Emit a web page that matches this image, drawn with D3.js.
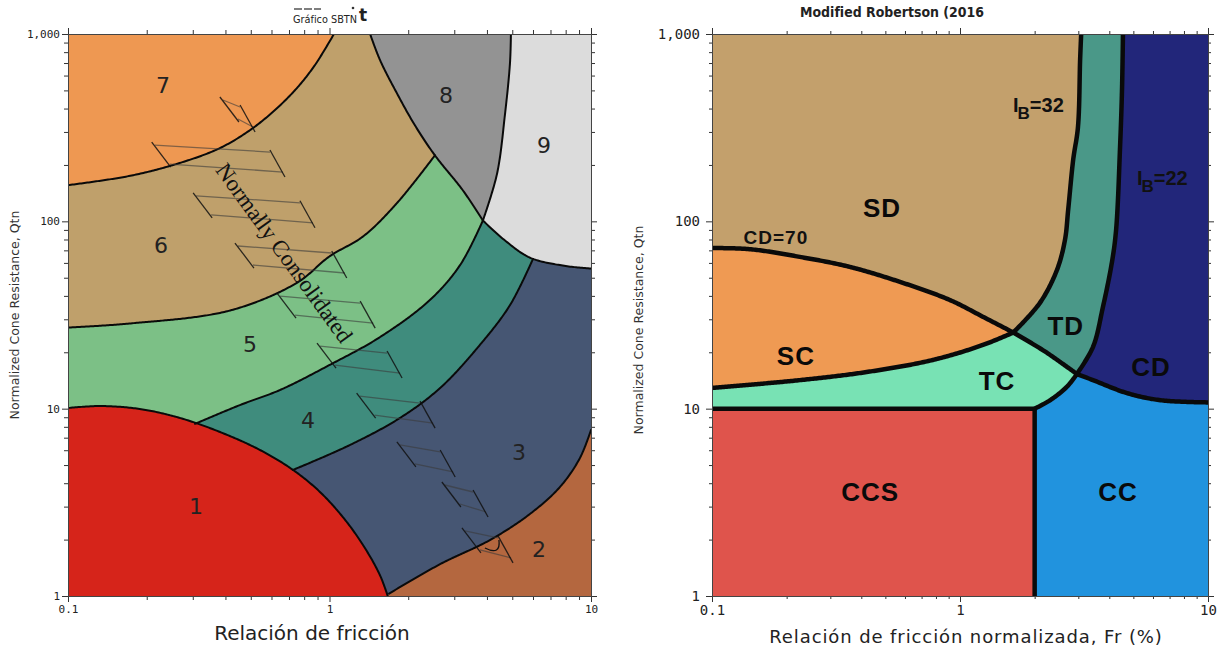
<!DOCTYPE html>
<html lang="es">
<head>
<meta charset="utf-8">
<title>SBTn charts</title>
<script src="https://cdn.jsdelivr.net/npm/d3@7/dist/d3.min.js"></script>
<style>
  html, body { margin: 0; padding: 0; background: #fff; }
  svg { display: block; }
</style>
</head>
<body>
<svg id="chart" width="1220" height="649"></svg>
<script>
// ---------- shared log-axis ticks ----------
const frMajor = [0.1, 1, 10];
const frMinor = [0.2, 0.3, 0.4, 0.5, 0.6, 0.7, 0.8, 0.9, 2, 3, 4, 5, 6, 7, 8, 9];
const qtMajor = [1, 10, 100, 1000];
const qtMinor = [2, 3, 4, 5, 6, 7, 8, 9, 20, 30, 40, 50, 60, 70, 80, 90, 200, 300, 400, 500, 600, 700, 800, 900];

// ---------- SBTn chart: zone boundaries, [Fr %, Qtn] ----------
const sbtZone1Top    = [[0.1, 10.08], [0.1326, 10.33], [0.1885, 9.96], [0.268, 8.92], [0.381, 7.51], [0.542, 6.02], [0.725, 4.71],
                        [0.920, 3.59], [1.147, 2.55], [1.367, 1.80], [1.56, 1.29], [1.67, 1]];
const sbtZone2Top    = [[1.69, 1.03], [2.65, 1.48], [4.11, 1.99], [5.84, 2.74], [7.61, 3.82], [9.07, 5.45], [10, 7.69]];
const sbtZone34      = [[0.725, 4.71], [1.198, 6.40], [1.86, 8.92], [2.65, 12.9], [3.76, 21.9], [4.90, 35.7], [6.0, 63]];
const sbtZone45      = [[0.306, 8.3], [0.455, 10.46], [0.647, 12.58], [1.0, 17.1], [1.56, 24.1], [2.42, 38.0], [3.16, 58.5], [3.86, 101]];
const sbtZone56      = [[0.1, 27.1], [0.173, 28.5], [0.416, 33.4], [0.751, 47], [1.0, 65], [1.343, 83], [1.81, 125], [2.53, 225]];
const sbtZone67      = [[0.1, 156], [0.173, 175], [0.268, 205], [0.381, 246], [0.497, 307], [0.619, 393], [0.751, 515], [0.880, 683], [1.04, 1000]];
const sbtZone8Left   = [[1.43, 1000], [1.56, 726], [1.81, 483], [2.12, 326], [2.53, 225], [3.24, 146], [3.86, 101]];
const sbtZone89      = [[3.86, 101], [4.37, 179], [4.69, 374], [4.90, 701], [4.94, 1000]];
const sbtZone9Bottom = [[3.86, 101], [4.69, 79], [5.84, 64], [7.82, 58], [10, 56]];

const sbtZoneNames = ["1", "2", "3", "4", "5", "6", "7", "8", "9"];
const sbtZonePos   = [[0.309, 3.02], [6.33, 1.78], [5.31, 5.8], [0.827, 8.6], [0.497, 21.9], [0.227, 73.9], [0.231, 534], [2.79, 472], [6.61, 253]];

// "Normally Consolidated" band: hatch marks [Fr left, Fr right, Qtn top]
const sbtNcMarks = [[0.381, 0.455, 461], [0.209, 0.592, 265], [0.301, 0.771, 142], [0.435, 1.02, 76.6], [0.630, 1.31, 41.4],
                    [0.896, 1.66, 22.4], [1.27, 2.22, 12.1], [1.81, 2.65, 6.64], [2.69, 3.54, 4.06], [3.21, 4.41, 2.31]];
const sbtNcLabel = "Normally Consolidated";
const sbtNcLabelPos = [0.670, 67.8];
const sbtNcHook = [3.93, 1.99];

// ---------- Modified Robertson (2016): boundaries, [Fr %, Qtn] ----------
const mrCd70     = [[0.1, 72], [0.142, 71], [0.226, 64.6], [0.36, 57.1], [0.573, 47.5], [0.911, 38.0], [1.24, 30.9], [1.64, 25.5]];
const mrCd70Tail = [[1.64, 25.5], [2.2, 20.2], [2.96, 15.3]];
const mrScBase   = [[0.1, 12.9], [0.226, 14.2], [0.422, 15.7], [0.778, 18.2], [1.24, 21.9], [1.64, 25.5]];
const mrIb32     = [[1.64, 25.5], [2.10, 36.7], [2.46, 55.0], [2.65, 79.6], [2.73, 115], [2.86, 213], [2.99, 319], [3.05, 727], [3.08, 1000]];
const mrIb22     = [[2.96, 15.3], [3.44, 21.4], [3.77, 34.9], [4.10, 60.7], [4.26, 90], [4.42, 250], [4.50, 503], [4.54, 1000]];
const mrCdBase   = [[2.96, 15.3], [3.44, 14.2], [4.72, 12.1], [6.41, 11.1], [10, 10.8]];
const mrTcBase   = [[2.0, 10], [2.31, 11.1], [2.70, 13.1], [2.96, 15.3]];
const mrCcsEdge  = [[0.1, 10], [2.0, 10], [2.0, 1]];

const mrZoneNames = ["SD", "SC", "TC", "TD", "CD", "CCS", "CC"];
const mrZonePos   = [[0.485, 118], [0.218, 19.1], [1.41, 14.0], [2.67, 27.6], [5.89, 16.7], [0.434, 3.59], [4.34, 3.59]];
const mrCdLabel = "CD=70", mrCdLabelPos = [0.181, 81.5];
const mrIbLabels = [["32", [1.636, 384]], ["22", [5.17, 156]]];

// ---------- colours ----------
const sbtColors = { z1: "#d6241a", z2: "#b4673f", z3: "#465673", z4: "#3f8c7d", z5: "#7cc086",
                    z6: "#bfa06b", z7: "#ee9852", z8: "#939393", z9: "#dcdcdc" };
const mrColors  = { SD: "#c3a06c", SC: "#ef9a53", TC: "#78e2b4", TD: "#4a9888",
                    CD: "#22267a", CC: "#2193de", CCS: "#df544c" };

const svg = d3.select("#chart");
const smooth = d3.curveCatmullRom.alpha(0.5);

// Sample a smoothed boundary into screen points so fills and strokes share one outline.
function trace(g, pts, sc) {
  const d = d3.line().x(p => sc.x(p[0])).y(p => sc.y(p[1])).curve(smooth)(pts);
  const node = g.append("path").attr("d", d).node();
  const len = node.getTotalLength();
  const n = Math.max(1, Math.ceil(len / 1.5));
  const out = d3.range(n + 1).map(i => { const p = node.getPointAtLength(len * i / n); return [p.x, p.y]; });
  node.remove();
  return out;
}
const at = (sc, p) => [sc.x(p[0]), sc.y(p[1])];
const rev = a => a.slice().reverse();
function fillPoly(g, pts, color) {
  g.append("path").attr("d", "M" + pts.map(p => p.join(",")).join("L") + "Z").attr("fill", color);
}
function strokeLine(g, pts, w) {
  g.append("path").attr("d", "M" + pts.map(p => p.join(",")).join("L"))
    .attr("fill", "none").attr("stroke", "#0a0a0a").attr("stroke-width", w)
    .attr("stroke-linejoin", "round").attr("stroke-linecap", "round");
}

function drawAxes(g, sc, o) {
  const [x0, x1] = sc.x.range();
  const [yb, yt] = sc.y.range();
  const put = (axis, tf, vals, size, fmt, pad) => {
    const a = g.append("g").attr("transform", tf)
      .call(axis.tickValues(vals).tickSize(size).tickSizeOuter(0).tickPadding(pad || 3).tickFormat(fmt || (() => "")));
    a.select(".domain").remove();
    a.selectAll("line").attr("stroke", o.tick);
    a.attr("font-family", o.font).attr("font-size", o.fontSize);
    a.selectAll("text").attr("fill", "#222");
    return a;
  };
  put(d3.axisLeft(sc.y), `translate(${x0},0)`, qtMajor, o.major, d3.format(","), o.padY);
  put(d3.axisLeft(sc.y), `translate(${x0},0)`, qtMinor, o.minor);
  put(d3.axisRight(sc.y), `translate(${x1},0)`, qtMajor, o.major);
  put(d3.axisRight(sc.y), `translate(${x1},0)`, qtMinor, o.minor);
  put(d3.axisBottom(sc.x), `translate(0,${yb})`, frMajor, o.major, d => String(d), o.padX);
  put(d3.axisBottom(sc.x), `translate(0,${yb})`, frMinor, o.minor);
  put(d3.axisTop(sc.x), `translate(0,${yt})`, frMajor, o.major);
  put(d3.axisTop(sc.x), `translate(0,${yt})`, frMinor, o.minor);
  g.append("rect").attr("x", x0 + 0.5).attr("y", yt + 0.5).attr("width", x1 - x0).attr("height", yb - yt)
    .attr("fill", "none").attr("stroke", o.frame).attr("stroke-width", 1);
}

// ================= SBTn chart =================
const sL = {
  x: d3.scaleLog().domain([0.1, 10]).range([68, 591]),
  y: d3.scaleLog().domain([1, 1000]).range([596, 34])
};
svg.append("clipPath").attr("id", "clipL").append("rect")
  .attr("x", 68).attr("y", 34).attr("width", 523).attr("height", 562);
const gL = svg.append("g").attr("clip-path", "url(#clipL)");
{
  const c1 = trace(gL, sbtZone1Top, sL), c2 = trace(gL, sbtZone2Top, sL), c34 = trace(gL, sbtZone34, sL);
  const c45 = trace(gL, sbtZone45, sL), c56 = trace(gL, sbtZone56, sL), c67 = trace(gL, sbtZone67, sL);
  const c8 = trace(gL, sbtZone8Left, sL), c89 = trace(gL, sbtZone89, sL), c9 = trace(gL, sbtZone9Bottom, sL);
  const P = p => at(sL, p);
  const first = a => a[0], last = a => a[a.length - 1];

  fillPoly(gL, [P([0.1, 1]), P([10, 1]), P([10, 1000]), P([0.1, 1000])], sbtColors.z3);
  fillPoly(gL, [P([0.1, 1]), P([first(sbtZone34)[0], 1]), ...c34, P([last(sbtZone34)[0], 1000]), P([0.1, 1000])], sbtColors.z4);
  fillPoly(gL, [P([0.1, 1]), P([first(sbtZone45)[0], 1]), ...c45, P([last(sbtZone45)[0], 1000]), P([0.1, 1000])], sbtColors.z5);
  fillPoly(gL, [...c56, P([last(sbtZone56)[0], 1000]), P([0.1, 1000])], sbtColors.z6);
  fillPoly(gL, [...c67, P([0.1, 1000])], sbtColors.z7);
  fillPoly(gL, [...c8, ...c89], sbtColors.z8);
  fillPoly(gL, [...c89, P([10, 1000]), ...rev(c9)], sbtColors.z9);
  fillPoly(gL, [...c1, P([0.1, 1])], sbtColors.z1);
  fillPoly(gL, [...c2, P([10, 1]), P([last(sbtZone1Top)[0], 1])], sbtColors.z2);

  [c1, c2, c34, c45, c56, c67, c8, c89, c9].forEach(c => strokeLine(gL, c, 2));

  // hatch marks of the normally consolidated band
  const hatch = gL.append("g");
  sbtNcMarks.forEach(([fl, fr, q]) => {
    const l = sL.x(fl), r = sL.x(fr), t = sL.y(q);
    [[l + 3, t + 3, r, t + 10], [l + 18, t + 22, r + 13, t + 30]].forEach(s =>
      hatch.append("line").attr("x1", s[0]).attr("y1", s[1]).attr("x2", s[2]).attr("y2", s[3])
        .attr("stroke", "#3a3a3a").attr("stroke-opacity", 0.6).attr("stroke-width", 1.3));
    [[l, t, l + 19, t + 25], [r, t + 8, r + 15, t + 35]].forEach(s =>
      hatch.append("line").attr("x1", s[0]).attr("y1", s[1]).attr("x2", s[2]).attr("y2", s[3])
        .attr("stroke", "#111").attr("stroke-opacity", 0.85).attr("stroke-width", 1.3));
  });
  const hk = P(sbtNcHook);
  hatch.append("path")
    .attr("d", `M${hk[0]},${hk[1] + 8} Q${hk[0] + 16},${hk[1] + 16} ${hk[0] + 14},${hk[1]}`)
    .attr("fill", "none").attr("stroke", "#111").attr("stroke-width", 1.3);

  const nc = P(sbtNcLabelPos);
  gL.append("text").attr("transform", `translate(${nc[0]},${nc[1]}) rotate(54)`)
    .attr("text-anchor", "middle").attr("dominant-baseline", "central")
    .attr("font-family", "Liberation Serif, DejaVu Serif, serif").attr("font-size", 23)
    .attr("fill", "#111").text(sbtNcLabel);

  gL.selectAll(".zlab").data(sbtZoneNames).join("text").attr("class", "zlab")
    .attr("x", (d, i) => sL.x(sbtZonePos[i][0])).attr("y", (d, i) => sL.y(sbtZonePos[i][1]))
    .attr("text-anchor", "middle").attr("dominant-baseline", "central")
    .attr("font-family", "DejaVu Sans, sans-serif").attr("font-size", 22).attr("fill", "#222")
    .text(d => d);
}
drawAxes(svg.append("g"), sL, { major: 6, minor: 4, tick: "#333", frame: "#444",
  font: "DejaVu Sans Mono, monospace", fontSize: 11, padX: 3, padY: 2 });

// titles of the SBTn chart
svg.append("text").attr("x", 293).attr("y", 23)
  .attr("font-family", "DejaVu Sans Condensed, DejaVu Sans, sans-serif").attr("font-size", 11)
  .attr("textLength", 64).attr("lengthAdjust", "spacingAndGlyphs").attr("fill", "#222").text("Gráfico SBTN");
svg.append("text").attr("x", 359).attr("y", 21)
  .attr("font-family", "DejaVu Sans, sans-serif").attr("font-size", 17).attr("font-weight", "bold")
  .attr("fill", "#222").text("t");
[[294, 302], [304, 312], [314, 321]].forEach(s =>
  svg.append("line").attr("x1", s[0]).attr("x2", s[1]).attr("y1", 9).attr("y2", 9)
    .attr("stroke", "#555").attr("stroke-width", 1.5));
svg.append("circle").attr("cx", 353).attr("cy", 8).attr("r", 1.3).attr("fill", "#333");
svg.append("text").attr("transform", "translate(19,315) rotate(-90)").attr("text-anchor", "middle")
  .attr("font-family", "DejaVu Sans, sans-serif").attr("font-size", 12.5).attr("fill", "#333")
  .text("Normalized Cone Resistance, Qtn");
svg.append("text").attr("x", 312).attr("y", 640).attr("text-anchor", "middle")
  .attr("font-family", "DejaVu Sans, sans-serif").attr("font-size", 20).attr("fill", "#222")
  .text("Relación de fricción");

// ================= Modified Robertson (2016) =================
const sR = {
  x: d3.scaleLog().domain([0.1, 10]).range([712, 1208]),
  y: d3.scaleLog().domain([1, 1000]).range([596, 34])
};
svg.append("clipPath").attr("id", "clipR").append("rect")
  .attr("x", 712).attr("y", 34).attr("width", 496).attr("height", 562);
const gR = svg.append("g").attr("clip-path", "url(#clipR)");
{
  const P = p => at(sR, p);
  const cA = trace(gR, mrCd70, sR), cB = trace(gR, mrCd70Tail, sR), cS = trace(gR, mrScBase, sR);
  const c32 = trace(gR, mrIb32, sR), c22 = trace(gR, mrIb22, sR);
  const cC = trace(gR, mrCdBase, sR), cT = trace(gR, mrTcBase, sR);
  const cE = mrCcsEdge.map(P);
  const j2 = mrIb32[0];

  fillPoly(gR, [P([0.1, 1]), P([10, 1]), P([10, 1000]), P([0.1, 1000])], mrColors.SD);
  fillPoly(gR, [...c32, P([10, 1000]), P([10, 1]), P([j2[0], 1])], mrColors.TD);
  fillPoly(gR, [...c22, P([10, 1000]), P(mrCdBase[mrCdBase.length - 1]), ...rev(cC)], mrColors.CD);
  fillPoly(gR, [...cA, ...rev(cS)], mrColors.SC);
  fillPoly(gR, [...cS, ...cB, ...rev(cT), P([0.1, 10])], mrColors.TC);
  fillPoly(gR, [...cT, ...cC, P([10, 1]), P([2.0, 1])], mrColors.CC);
  fillPoly(gR, [P([0.1, 1]), P([0.1, 10]), P([2.0, 10]), P([2.0, 1])], mrColors.CCS);

  [cE, cT, cC, c22, c32, cA, cB, cS].forEach(c => strokeLine(gR, c, 4.5));

  gR.selectAll(".zlab").data(mrZoneNames).join("text").attr("class", "zlab")
    .attr("x", (d, i) => sR.x(mrZonePos[i][0])).attr("y", (d, i) => sR.y(mrZonePos[i][1]))
    .attr("text-anchor", "middle").attr("dominant-baseline", "central")
    .attr("font-family", "Liberation Sans, Arial, sans-serif").attr("font-size", 26)
    .attr("font-weight", "bold").attr("letter-spacing", 1).attr("fill", "#0a0a0a")
    .text(d => d);

  gR.append("text").attr("x", sR.x(mrCdLabelPos[0])).attr("y", sR.y(mrCdLabelPos[1]))
    .attr("text-anchor", "middle").attr("dominant-baseline", "central")
    .attr("font-family", "Liberation Sans, Arial, sans-serif").attr("font-size", 19)
    .attr("font-weight", "bold").attr("letter-spacing", 1).attr("fill", "#111").text(mrCdLabel);

  mrIbLabels.forEach(([v, pos]) => {
    const t = gR.append("text").attr("x", sR.x(pos[0])).attr("y", sR.y(pos[1]))
      .attr("font-family", "Liberation Sans, Arial, sans-serif").attr("font-size", 20)
      .attr("font-weight", "bold").attr("fill", "#111");
    t.append("tspan").text("I");
    t.append("tspan").attr("dy", 7).attr("dx", -1).attr("font-size", 17).text("B");
    t.append("tspan").attr("dy", -7).text("=" + v);
  });
}
drawAxes(svg.append("g"), sR, { major: 6, minor: 3, tick: "#333", frame: "#444",
  font: "DejaVu Sans Mono, monospace", fontSize: 14, padX: 3, padY: 6 });

svg.append("text").attr("x", 800).attr("y", 17)
  .attr("font-family", "DejaVu Sans, sans-serif").attr("font-size", 13.5).attr("font-weight", "bold")
  .attr("textLength", 184).attr("lengthAdjust", "spacingAndGlyphs")
  .attr("fill", "#222").text("Modified Robertson (2016");
svg.append("text").attr("transform", "translate(643,330) rotate(-90)").attr("text-anchor", "middle")
  .attr("font-family", "DejaVu Sans, sans-serif").attr("font-size", 12.5).attr("fill", "#333")
  .text("Normalized Cone Resistance, Qtn");
svg.append("text").attr("x", 966).attr("y", 643).attr("text-anchor", "middle")
  .attr("font-family", "DejaVu Sans, sans-serif").attr("font-size", 18).attr("letter-spacing", 0.9)
  .attr("fill", "#222").text("Relación de fricción normalizada, Fr (%)");
</script>
</body>
</html>
